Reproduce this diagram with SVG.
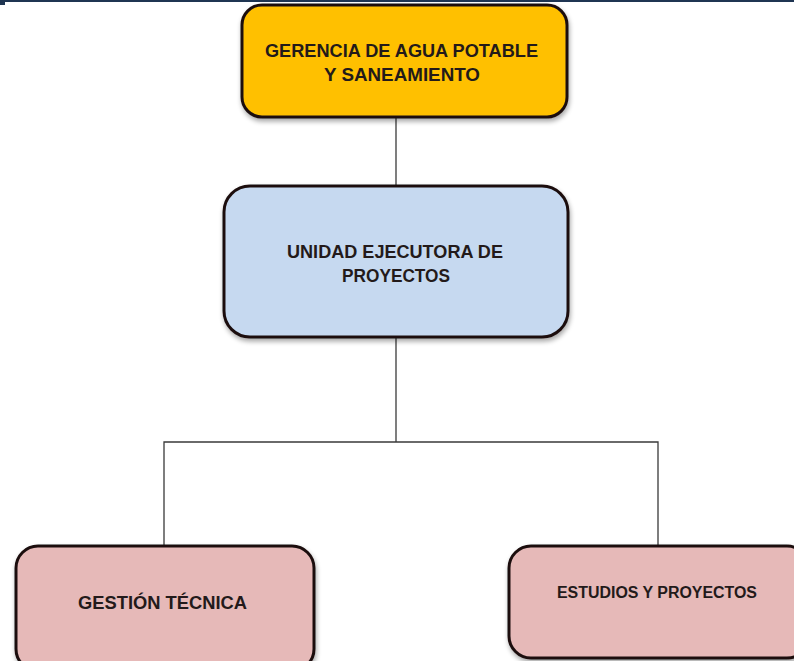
<svg xmlns="http://www.w3.org/2000/svg" width="794" height="661" viewBox="0 0 794 661">
<defs>
<filter id="sh" x="-10%" y="-10%" width="120%" height="130%">
<feGaussianBlur in="SourceAlpha" stdDeviation="2.5"/>
<feOffset dx="1" dy="3" result="b"/>
<feComponentTransfer><feFuncA type="linear" slope="0.35"/></feComponentTransfer>
<feMerge><feMergeNode/><feMergeNode in="SourceGraphic"/></feMerge>
</filter>
</defs>
<style>
.box{stroke:#1c1010;stroke-width:3;filter:url(#sh)}
.t{font-family:"Liberation Sans",Arial,sans-serif;font-weight:bold;fill:#231a1a;text-anchor:middle;font-size:17.5px}
.c{stroke:#3a3a3a;stroke-width:1.3;fill:none}
</style>
<rect x="0" y="0" width="794" height="661" fill="#ffffff"/>
<rect x="0" y="0" width="794" height="2" fill="#1f3552"/>
<rect x="0" y="2" width="5" height="3" fill="#1f3552"/>
<g id="connectors">
<line class="c" x1="396" y1="118" x2="396" y2="186"/>
<line class="c" x1="396" y1="337" x2="396" y2="442"/>
<polyline class="c" points="164,546 164,442 658,442 658,546"/>
</g>
<g id="gerencia">
<rect class="box" x="242" y="5" width="325" height="112" rx="20" fill="#FFC000"/>
<text class="t" x="401.5" y="57" textLength="273" lengthAdjust="spacingAndGlyphs">GERENCIA DE AGUA POTABLE</text>
<text class="t" x="402" y="81" textLength="156" lengthAdjust="spacingAndGlyphs">Y SANEAMIENTO</text>
</g>
<g id="unidad">
<rect class="box" x="224" y="186" width="344" height="151" rx="26" fill="#C6D9F0"/>
<text class="t" x="395" y="258" textLength="216" lengthAdjust="spacingAndGlyphs">UNIDAD EJECUTORA DE</text>
<text class="t" x="396" y="282" textLength="108" lengthAdjust="spacingAndGlyphs">PROYECTOS</text>
</g>
<g id="gestion">
<rect class="box" x="16" y="546" width="298" height="125" rx="22" fill="#E6B9B8"/>
<text class="t" x="162.5" y="609" textLength="169" lengthAdjust="spacingAndGlyphs">GESTIÓN TÉCNICA</text>
</g>
<g id="estudios">
<rect class="box" x="509" y="546" width="300" height="112" rx="22" fill="#E6B9B8"/>
<text class="t" x="657" y="598" style="font-size:16px" textLength="200" lengthAdjust="spacingAndGlyphs">ESTUDIOS Y PROYECTOS</text>
</g>
</svg>
